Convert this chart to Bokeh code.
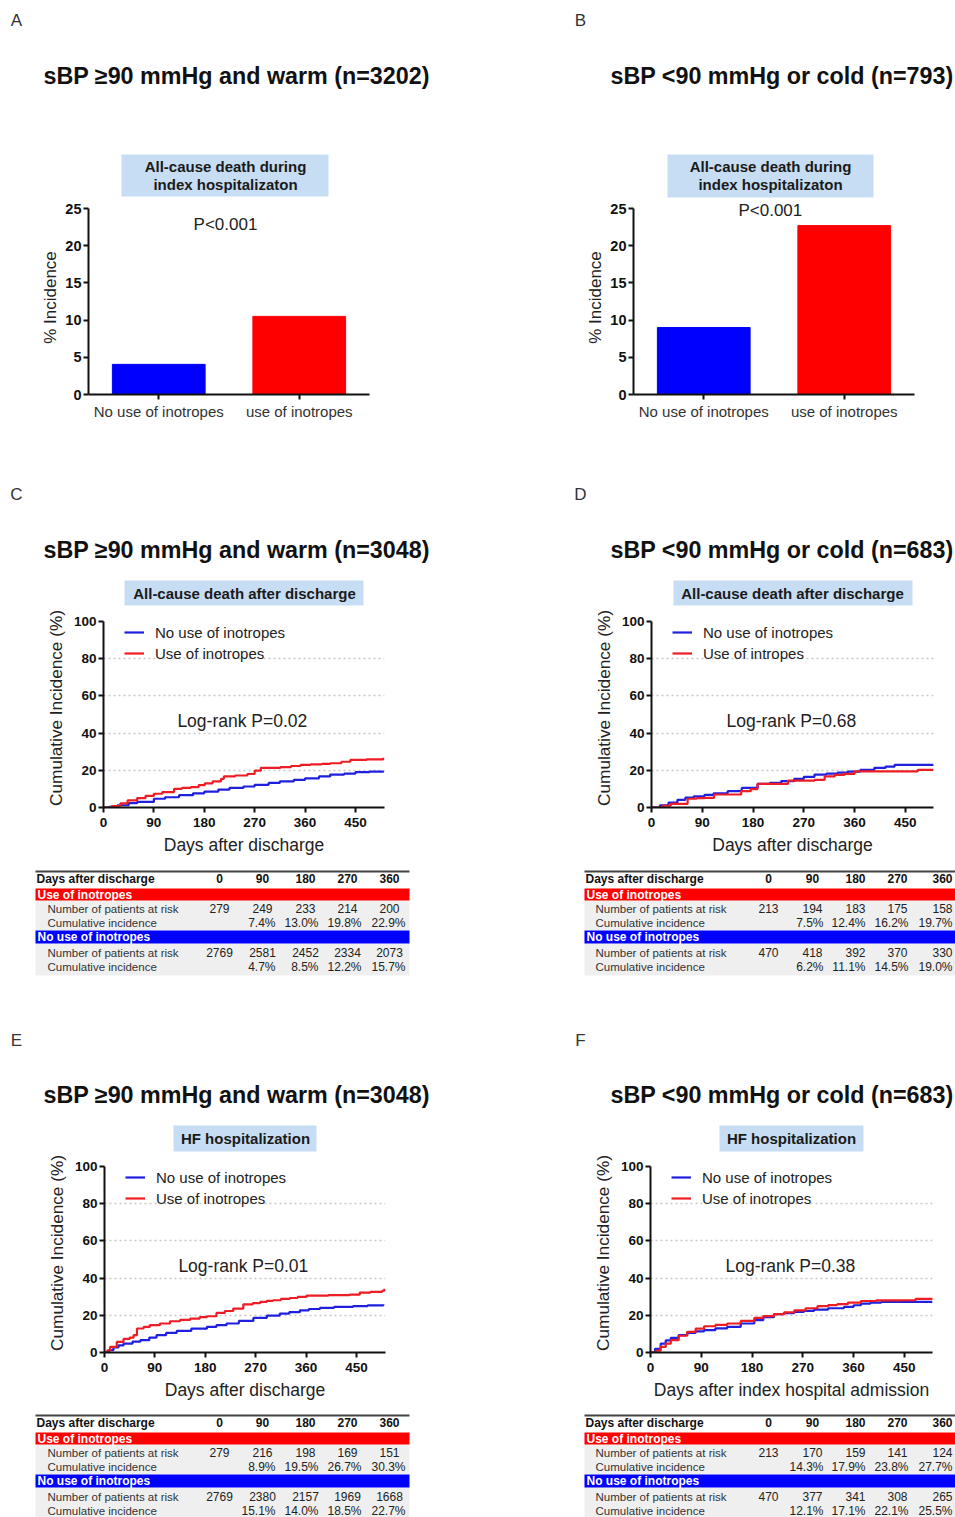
from bokeh.plotting import figure
from bokeh.layouts import column, row
from bokeh.models import Range1d, FactorRange, FixedTicker, Legend, LegendItem
from bokeh.core.properties import value
from bokeh.embed import file_html
from bokeh.resources import INLINE

FONT = "Liberation Sans"

# ---------------- data ----------------
BAR_CATEGORIES = ["No use of inotropes", "use of inotropes"]
A_INCIDENCE = [4.05, 10.5]
B_INCIDENCE = [9.0, 22.7]

KM_LABELS = ["No use of inotropes", "Use of inotropes"]
D_LABELS = ["No use of inotropes", "Use of intropes"]

C_NO_DAYS = [0, 10, 25, 45, 60, 90, 110, 135, 160, 180, 205, 225, 250, 270, 295, 315, 340, 360, 385, 405, 430, 450, 475, 500]
C_NO_INC = [0, 0.3, 1.2, 2.3, 3.0, 4.7, 5.5, 6.6, 7.6, 8.5, 9.6, 10.5, 11.3, 12.2, 13.2, 14.0, 14.9, 15.7, 16.7, 17.7, 18.2, 19.0, 19.3, 19.8]
C_USE_DAYS = [0, 15, 30, 43, 60, 75, 90, 105, 126, 140, 156, 170, 181, 195, 210, 215, 235, 257, 270, 281, 300, 316, 335, 352, 370, 390, 405, 425, 441, 470, 500]
C_USE_INC = [0, 0.8, 2.2, 3.8, 5.0, 6.2, 7.4, 8.3, 10.0, 10.5, 11.0, 12.0, 13.0, 14.0, 15.4, 16.7, 17.2, 18.0, 19.8, 21.3, 21.3, 21.7, 22.3, 22.9, 23.2, 23.5, 23.8, 24.6, 25.6, 25.9, 26.7]

D_NO_DAYS = [0, 15, 30, 46, 60, 75, 94, 110, 135, 160, 188, 210, 230, 253, 270, 289, 310, 330, 348, 370, 395, 415, 431, 460, 500]
D_NO_INC = [0, 1.2, 2.6, 4.1, 5.3, 6.0, 6.8, 7.6, 8.8, 10.5, 12.7, 13.3, 14.2, 15.4, 16.5, 17.7, 18.2, 18.7, 19.3, 20.2, 21.3, 22.0, 22.9, 22.9, 23.1]
D_USE_DAYS = [0, 20, 34, 52, 64, 80, 94, 111, 147, 159, 176, 188, 230, 242, 270, 289, 307, 325, 342, 360, 466, 472, 500]
D_USE_INC = [0, 1.0, 2.0, 2.0, 4.7, 5.0, 5.2, 7.0, 7.0, 8.8, 9.9, 12.7, 12.7, 14.5, 14.5, 14.9, 16.7, 17.5, 18.1, 19.4, 19.4, 20.2, 20.2]

E_NO_DAYS = [0, 8, 16, 25, 34, 50, 64, 80, 93, 110, 129, 155, 183, 200, 218, 240, 266, 290, 313, 330, 349, 365, 385, 410, 444, 470, 498]
E_NO_INC = [0, 1.2, 2.7, 3.8, 4.8, 5.8, 6.6, 8.0, 9.3, 10.5, 11.6, 12.8, 13.8, 14.7, 15.6, 17.0, 18.6, 19.8, 20.9, 21.7, 22.7, 23.4, 24.0, 24.5, 24.9, 25.3, 25.9]
E_USE_DAYS = [0, 5, 10, 22, 34, 45, 52, 58, 70, 81, 99, 117, 135, 153, 170, 183, 200, 215, 230, 248, 265, 278, 290, 301, 315, 331, 345, 361, 400, 438, 456, 475, 496, 500]
E_USE_INC = [0, 1.2, 3.0, 5.7, 7.3, 8.0, 9.3, 12.9, 13.8, 14.7, 15.6, 16.8, 17.5, 18.2, 19.0, 19.5, 21.3, 22.3, 23.6, 25.9, 26.5, 27.2, 27.8, 28.1, 28.8, 29.3, 29.9, 30.6, 30.8, 31.1, 32.2, 32.6, 33.2, 34.3]

F_NO_DAYS = [0, 8, 18, 27, 36, 50, 65, 80, 95, 115, 136, 160, 184, 200, 219, 237, 255, 272, 290, 315, 343, 360, 373, 390, 409, 450, 500]
F_NO_INC = [0, 2.0, 4.8, 6.5, 7.9, 9.3, 10.6, 11.4, 12.0, 13.0, 13.8, 15.6, 17.4, 19.0, 20.6, 21.2, 21.8, 22.4, 23.1, 23.8, 24.5, 25.4, 26.3, 26.8, 27.2, 27.2, 27.2]
F_USE_DAYS = [0, 10, 18, 27, 36, 50, 65, 80, 95, 115, 136, 160, 184, 200, 219, 237, 255, 275, 296, 315, 331, 350, 373, 400, 444, 470, 500]
F_USE_INC = [0, 1.0, 3.0, 4.8, 6.6, 9.0, 11.1, 12.8, 14.1, 14.8, 15.6, 17.0, 18.6, 19.6, 20.6, 21.6, 22.7, 23.8, 24.9, 25.5, 26.0, 26.8, 27.7, 28.0, 28.1, 28.8, 29.5]

KM_X_TICKS = [0, 90, 180, 270, 360, 450]
KM_Y_TICKS = [0, 20, 40, 60, 80, 100]
BAR_Y_TICKS = [0, 5, 10, 15, 20, 25]

TABLE_DAYS = [0, 90, 180, 270, 360]
C_USE_RISK = [279, 249, 233, 214, 200]
C_USE_CUM = [7.4, 13.0, 19.8, 22.9]
C_NO_RISK = [2769, 2581, 2452, 2334, 2073]
C_NO_CUM = [4.7, 8.5, 12.2, 15.7]
D_USE_RISK = [213, 194, 183, 175, 158]
D_USE_CUM = [7.5, 12.4, 16.2, 19.7]
D_NO_RISK = [470, 418, 392, 370, 330]
D_NO_CUM = [6.2, 11.1, 14.5, 19.0]
E_USE_RISK = [279, 216, 198, 169, 151]
E_USE_CUM = [8.9, 19.5, 26.7, 30.3]
E_NO_RISK = [2769, 2380, 2157, 1969, 1668]
E_NO_CUM = [15.1, 14.0, 18.5, 22.7]
F_USE_RISK = [213, 170, 159, 141, 124]
F_USE_CUM = [14.3, 17.9, 23.8, 27.7]
F_NO_RISK = [470, 377, 341, 308, 265]
F_NO_CUM = [12.1, 17.1, 22.1, 25.5]

# ---------------- styles ----------------
BAR_COLORS = ["#0000ff", "#ff0000"]
LINE_BLUE = "#1f1fe0"
LINE_RED = "#ee1c24"
BOX_BLUE = "#c6ddf3"
TABLE_GRAY = "#efefef"

LEFT_X = (0, 556)
RIGHT_X = (556, 955)
LW = 556
RW = 399
KM_TOP = 106.99


def canvas(width, xr, ytop, ybot):
    p = figure(width=width, height=ybot - ytop, x_range=Range1d(*xr), y_range=Range1d(ybot, ytop),
               output_backend="svg", toolbar_location=None, x_axis_location=None, y_axis_location=None,
               min_border=0, outline_line_color=None, background_fill_color="white",
               border_fill_color="white")
    p.grid.visible = False
    return p


def put(p, xs, ys, texts, size, bold=False, align="left", color="#222222"):
    p.text(x=xs, y=ys, text=texts, text_font=value(FONT), text_font_size=value(size),
           text_font_style="bold" if bold else "normal", text_align=align,
           text_baseline="middle", text_color=color)


def header(width, xr, ytop, ybot, letter, lpos, title, tpos, box, lines, cx, ys):
    p = canvas(width, xr, ytop, ybot)
    put(p, [lpos[0]], [lpos[1]], [letter], "17px", align="center", color="#333333")
    put(p, [tpos[0]], [tpos[1]], [title], "23.3px", bold=True, color="#111111")
    p.quad(left=[box[0]], right=[box[1]], top=[box[2]], bottom=[box[3]],
           fill_color=BOX_BLUE, line_color=None)
    put(p, [cx] * len(lines), ys, lines, "15px", bold=True, align="center", color="#1a1a1a")
    return p


def style_axes(p, tick_size):
    for ax in p.axis:
        ax.axis_line_width = 2
        ax.axis_line_color = "#111111"
        ax.major_tick_line_width = 2
        ax.major_tick_line_color = "#111111"
        ax.major_tick_out = 5
        ax.major_tick_in = 0
        ax.minor_tick_line_color = None
        ax.major_label_text_font = FONT
        ax.major_label_text_font_size = tick_size
        ax.major_label_text_font_style = "bold"
        ax.major_label_text_color = "#111111"
        ax.major_label_standoff = 2
        ax.axis_label_text_font = FONT
        ax.axis_label_text_font_style = "normal"
        ax.axis_label_text_color = "#222222"
        ax.axis_label_standoff = 6


def bar_chart(width, left, right, vals, pxy):
    p = figure(width=width, height=240, x_range=FactorRange(factors=BAR_CATEGORIES),
               y_range=Range1d(0, 26.075), output_backend="svg", toolbar_location=None,
               min_border_left=left, min_border_right=right, min_border_top=0,
               min_border_bottom=46, outline_line_color=None)
    p.vbar(x=BAR_CATEGORIES, top=vals, width=0.66, fill_color=BAR_COLORS, line_color=BAR_COLORS)
    p.grid.visible = False
    style_axes(p, "14.5px")
    p.yaxis.ticker = FixedTicker(ticks=BAR_Y_TICKS)
    p.yaxis.bounds = (0, 25)
    p.yaxis.axis_label = "% Incidence"
    p.yaxis.axis_label_text_font_size = "17px"
    p.yaxis.axis_label_standoff = 2
    p.xaxis.major_label_text_font_style = "normal"
    p.xaxis.major_label_text_font_size = "15px"
    p.xaxis.major_label_text_color = "#333333"
    p.xaxis.major_label_standoff = 3
    put(p, [pxy[0]], [pxy[1]], ["P<0.001"], "17px", align="center")
    return p


def km_chart(width, height, left, right, bottom, xmax, xlabel, no, use, labels, logrank):
    p = figure(width=width, height=height, x_range=Range1d(0, xmax), y_range=Range1d(0, KM_TOP),
               output_backend="svg", toolbar_location=None, min_border_left=left,
               min_border_right=right, min_border_top=0, min_border_bottom=bottom,
               outline_line_color=None)
    style_axes(p, "13.5px")
    p.xaxis.ticker = FixedTicker(ticks=KM_X_TICKS)
    p.yaxis.ticker = FixedTicker(ticks=KM_Y_TICKS)
    p.yaxis.bounds = (0, 100)
    p.xaxis.axis_label = xlabel
    p.yaxis.axis_label = "Cumulative Incidence (%)"
    p.xaxis.axis_label_text_font_size = "17.5px"
    p.yaxis.axis_label_text_font_size = "17.2px"
    p.xaxis.major_label_standoff = 5
    p.xaxis.axis_label_standoff = 5
    p.yaxis.axis_label_standoff = 5
    p.xgrid.visible = False
    p.ygrid.ticker = FixedTicker(ticks=[20, 40, 60, 80])
    p.ygrid.grid_line_dash = "2 3"
    p.ygrid.grid_line_color = "#c8c8c8"
    p.ygrid.grid_line_width = 1.5
    p.ygrid.bounds = (8, xmax)
    rb = p.step(x=no[0], y=no[1], mode="after", line_color=LINE_BLUE, line_width=2.2)
    rr = p.step(x=use[0], y=use[1], mode="after", line_color=LINE_RED, line_width=2.2)
    leg = Legend(items=[LegendItem(label=labels[0], renderers=[rb]),
                        LegendItem(label=labels[1], renderers=[rr])],
                 location=(21, 144), padding=0, margin=0, spacing=1, glyph_width=20,
                 glyph_height=20, label_height=20, label_standoff=11,
                 background_fill_alpha=0, border_line_color=None,
                 label_text_font=FONT, label_text_font_size="15px", label_text_color="#222222")
    p.add_layout(leg)
    put(p, [248], [46.3], [logrank], "17.5px", align="center")
    return p


def table(width, xr, ytop, ybot, y0, xl, xrgt, lab_x, row_x, risk_cx, pct_rx,
          use_risk, use_cum, no_risk, no_cum):
    p = canvas(width, xr, ytop, ybot)
    p.quad(left=[xl, xl], right=[xrgt, xrgt], top=[y0 + 29, y0 + 72], bottom=[y0 + 59, y0 + 104],
           fill_color=TABLE_GRAY, line_color=None)
    p.quad(left=[xl, xl], right=[xrgt, xrgt], top=[y0 + 17, y0 + 59], bottom=[y0 + 29, y0 + 72],
           fill_color=["#ff0000", "#0000ff"], line_color=None)
    p.segment(x0=[xl], y0=[y0], x1=[xrgt], y1=[y0], line_color="#444444", line_width=2)
    put(p, [lab_x], [y0 + 7], ["Days after discharge"], "12px", bold=True, color="#111111")
    put(p, risk_cx, [y0 + 7] * len(TABLE_DAYS), [str(d) for d in TABLE_DAYS], "12px",
        bold=True, align="center", color="#111111")
    put(p, [lab_x + 1, lab_x + 1], [y0 + 23, y0 + 65.5], ["Use of inotropes", "No use of inotropes"],
        "12px", bold=True, color="white")
    for dy, risk, cum in ((37, use_risk, use_cum), (81, no_risk, no_cum)):
        put(p, [row_x, row_x], [y0 + dy, y0 + dy + 14.5],
            ["Number of patients at risk", "Cumulative incidence"], "11.5px", color="#333333")
        put(p, risk_cx, [y0 + dy] * len(risk), [str(v) for v in risk], "12px",
            align="center", color="#222222")
        put(p, pct_rx, [y0 + dy + 14.5] * len(cum), ["%.1f%%" % v for v in cum], "12px",
            align="right", color="#222222")
    return p


TITLE_L1 = "sBP \u226590 mmHg and warm (n=3202)"
TITLE_R1 = "sBP <90 mmHg or cold (n=793)"
TITLE_L2 = "sBP \u226590 mmHg and warm (n=3048)"
TITLE_R2 = "sBP <90 mmHg or cold (n=683)"

# band 1 : 0-200 header, 200-440 bar chart
hA = header(LW, LEFT_X, 0, 200, "A", (16, 20), TITLE_L1, (43, 75), (121, 328, 154, 196),
            ["All-cause death during", "index hospitalizaton"], 225, [166, 184])
hB = header(RW, RIGHT_X, 0, 200, "B", (580, 20), TITLE_R1, (610, 75), (667, 873, 154, 197),
            ["All-cause death during", "index hospitalizaton"], 770, [166, 184])
cA = bar_chart(LW, 88, 187, A_INCIDENCE, (0.975, 22.85))
cB = bar_chart(RW, 77, 41, B_INCIDENCE, (0.974, 24.7))

# band 2 : 440-608 header, 608-862 KM, 862-1000 table
hC = header(LW, LEFT_X, 440, 608, "C", (16, 494), TITLE_L2, (43, 549), (124, 363, 580, 605),
            ["All-cause death after discharge"], 244, [592.5])
hD = header(RW, RIGHT_X, 440, 608, "D", (580, 494), TITLE_R2, (610, 549), (673, 912, 580, 605),
            ["All-cause death after discharge"], 792, [592.5])
kC = km_chart(LW, 254, 103, 172, 55, 502, "Days after discharge",
              (C_NO_DAYS, C_NO_INC), (C_USE_DAYS, C_USE_INC), KM_LABELS, "Log-rank P=0.02")
kD = km_chart(RW, 254, 95, 22, 55, 500, "Days after discharge",
              (D_NO_DAYS, D_NO_INC), (D_USE_DAYS, D_USE_INC), D_LABELS, "Log-rank P=0.68")

L_RISK_CX = [219, 262, 305, 347, 389]
L_PCT_RX = [275, 318, 361, 405]
R_RISK_CX = [768, 812, 855, 897, 942]
R_PCT_RX = [823, 865, 908, 952]

tC = table(LW, LEFT_X, 862, 1000, 871, 35, 409, 36, 47, L_RISK_CX, L_PCT_RX,
           C_USE_RISK, C_USE_CUM, C_NO_RISK, C_NO_CUM)
tD = table(RW, RIGHT_X, 862, 1000, 871, 584, 955, 585, 595, R_RISK_CX, R_PCT_RX,
           D_USE_RISK, D_USE_CUM, D_NO_RISK, D_NO_CUM)

# band 3 : 1000-1153 header, 1153-1405 KM, 1405-1517 table
hE = header(LW, LEFT_X, 1000, 1153, "E", (16, 1040), TITLE_L2, (43, 1094), (173, 316, 1125, 1151),
            ["HF hospitalization"], 245, [1138])
hF = header(RW, RIGHT_X, 1000, 1153, "F", (580, 1040), TITLE_R2, (610, 1094), (719, 863, 1125, 1151),
            ["HF hospitalization"], 791, [1138])
kE = km_chart(LW, 252, 104, 171, 53, 502, "Days after discharge",
              (E_NO_DAYS, E_NO_INC), (E_USE_DAYS, E_USE_INC), KM_LABELS, "Log-rank P=0.01")
kF = km_chart(RW, 252, 94, 23, 53, 500, "Days after index hospital admission",
              (F_NO_DAYS, F_NO_INC), (F_USE_DAYS, F_USE_INC), KM_LABELS, "Log-rank P=0.38")

tE = table(LW, LEFT_X, 1405, 1517, 1415, 35, 409, 36, 47, L_RISK_CX, L_PCT_RX,
           E_USE_RISK, E_USE_CUM, E_NO_RISK, E_NO_CUM)
tF = table(RW, RIGHT_X, 1405, 1517, 1415, 584, 955, 585, 595, R_RISK_CX, R_PCT_RX,
           F_USE_RISK, F_USE_CUM, F_NO_RISK, F_NO_CUM)

bands = [(hA, hB), (cA, cB), (hC, hD), (kC, kD), (tC, tD), (hE, hF), (kE, kF), (tE, tF)]
layout = column([row(column(l), column(r), spacing=0) for l, r in bands], spacing=0)

open("out.html", "w").write(file_html(layout, INLINE, title="Inotropes"))
